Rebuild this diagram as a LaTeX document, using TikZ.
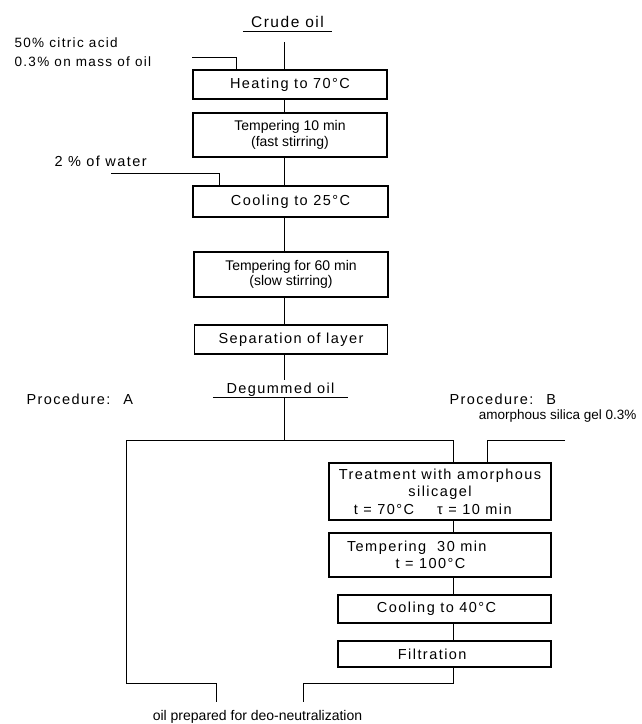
\documentclass[tikz,border=0pt]{standalone}
\usepackage{fontspec}
\setmainfont{Liberation Sans}
\newfontfamily\lettering[LetterSpace=10]{Liberation Sans}
\usetikzlibrary{calc}

\begin{document}
\begin{tikzpicture}[x=1pt,y=-1pt,
    box/.style={draw, line width=1.3pt, inner sep=0pt, align=center},
    din/.style={font=\lettering\fontsize{14.5}{17.5}\selectfont},
    plain/.style={font=\fontsize{14}{15.5}\selectfont},
    link/.style={line width=0.9pt}]
    \useasboundingbox (0,0) rectangle (641,724);

    % main column runs down x = 284
    \coordinate (ax) at (284,0);

    \node[din, font=\lettering\fontsize{15.5}{17.5}\selectfont, minimum width=89pt, inner xsep=0pt, inner ysep=3pt, text depth=0pt, anchor=south] (crude) at (287.5,31) {Crude oil};
    \draw[link] (crude.south west) -- (crude.south east);

    \node[box, din, minimum width=194pt, minimum height=29pt] (heat) at (290,84.5) {Heating to 70°C};
    \node[box, plain, minimum width=194pt, minimum height=44pt] (temp1) at (290,135) {Tempering 10 min\\(fast stirring)};
    \node[box, din, minimum width=195pt, minimum height=31pt] (cool1) at (290.5,201.5) {Cooling to 25°C};
    \node[box, plain, minimum width=194pt, minimum height=45pt] (temp2) at (291,274.5) {Tempering for 60 min\\(slow stirring)};
    \node[box, din, minimum width=193pt, minimum height=29pt] (sep) at (291,339.5) {Separation of layer};

    \node[din, minimum width=135pt, inner xsep=0pt, inner ysep=3pt, text depth=0pt, anchor=south] (degum) at (280.5,397) {Degummed oil};
    \draw[link] (degum.south west) -- (degum.south east);

    % procedure B
    \node[box, din, minimum width=222pt, minimum height=57pt] (treat) at (440,491.5) {Treatment with amorphous\\silicagel\\t = 70°C\hspace{1.6em}τ = 10 min\hspace{1em}\mbox{}};
    \node[box, din, minimum width=222pt, minimum height=44pt] (temp3) at (440,555) {Tempering~ 30 min\hspace{3.2em}\mbox{}\\t = 100°C\hspace{1.3em}\mbox{}};
    \node[box, din, minimum width=213pt, minimum height=28pt] (cool2) at (444.5,609) {Cooling to 40°C\hspace{1.1em}\mbox{}};
    \node[box, din, minimum width=213pt, minimum height=26pt] (filt) at (444.5,654) {Filtration\hspace{1.7em}\mbox{}};

    % side labels
    \node[din, anchor=west, align=left, font=\lettering\fontsize{13.5}{19}\selectfont] (acid) at (11,52.5) {50\% citric acid\\0.3\% on mass of oil};
    \node[din, anchor=west] (water) at (51,161) {2 \% of water};
    \node[din, anchor=west] (procA) at (23,399) {Procedure:~ A};
    \node[din, anchor=west] (procB) at (446,399) {Procedure:~ B};
    \node[plain, font=\fontsize{13.5}{15.5}\selectfont, anchor=east] (gel) at (640,416) {amorphous silica gel 0.3\%};
    \node[plain] (result) at (257.5,717) {oil prepared for deo-neutralization};

    \coordinate (crudeout) at (284,42);
    \coordinate (acidin) at (192,57);
    \coordinate (waterin) at (111,173);
    \coordinate (sepout) at (284,380);
    \coordinate (fork) at (284,440);
    \coordinate (branchA) at (126,440);
    \coordinate (branchB) at (453,440);
    \coordinate (gelin) at (565,440);
    \coordinate (cornerA) at (126,683);
    \coordinate (outA) at (216,702);
    \coordinate (outB) at (303,702);

    \draw[link] (crudeout) -- (heat.north -| ax);
    \foreach \a/\b in {heat/temp1, temp1/cool1, cool1/temp2, temp2/sep}
        \draw[link] (\a.south -| ax) -- (\b.north -| ax);
    \draw[link] (acidin) -| ([xshift=44pt]heat.north west);
    \draw[link] (waterin) -| ([xshift=27pt]cool1.north west);
    \draw[link] (sep.south -| ax) -- (sepout);
    \draw[link] (degum.south -| ax) -- (fork);

    % split into A and B
    \draw[link] (branchA) -- (branchB) -- (treat.north -| branchB);
    \draw[link] (gelin) -| ([xshift=159pt]treat.north west);
    \foreach \a/\b in {treat/temp3, temp3/cool2, cool2/filt}
        \draw[link] (\a.south -| branchB) -- (\b.north -| branchB);
    \draw[link] (branchA) -- (cornerA) -| (outA);
    \draw[link] (filt.south -| branchB) |- (outB |- cornerA) -- (outB);
\end{tikzpicture}
\end{document}
